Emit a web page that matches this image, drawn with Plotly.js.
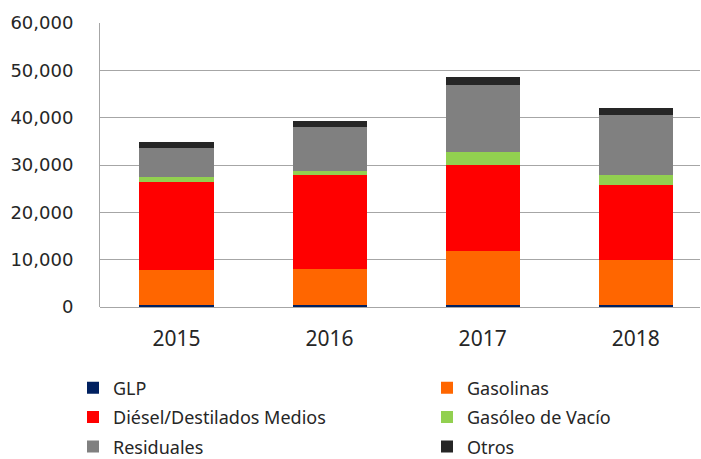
<!DOCTYPE html>
<html>
<head>
<meta charset="utf-8">
<script src="https://cdn.plot.ly/plotly-3.0.1.min.js"></script>
<style>
  body { margin: 0; background: #fff; }
  #chart { width: 701px; height: 459px; }
</style>
</head>
<body>
<div id="chart"></div>
<script>
var years = ["2015", "2016", "2017", "2018"];

var glp = [500, 500, 500, 500];
var gasolinas = [7360, 7570, 11370, 9400];
var diesel = [18610, 19750, 18120, 15940];
var gasoleo = [930, 900, 2800, 1980];
var residuales = [6240, 9340, 14060, 12640];
var otros = [1130, 1270, 1750, 1540];

var names = ["GLP", "Gasolinas", "Diésel/Destilados Medios", "Gasóleo de Vacío", "Residuales", "Otros"];
var colors = ["#002060", "#ff6600", "#ff0000", "#92d050", "#808080", "#262626"];
var series = [glp, gasolinas, diesel, gasoleo, residuales, otros];

// left column legend: GLP, Diésel, Residuales; right column: the others
var traces = series.map(function (vals, i) {
    return {
        x: years,
        y: vals,
        name: names[i],
        type: "bar",
        legend: (i % 2 === 0) ? "legend" : "legend2",
        legendgroup: "g" + i,
        marker: {color: colors[i], line: {width: 0}}
    };
});

var legendFont = {family: "Noto Sans", size: 18, color: "#262626"};

var layout = {
    width: 701,
    height: 459,
    margin: {l: 100, r: 1, t: 23, b: 152, autoexpand: false},
    barmode: "stack",
    bargap: 0.516,
    paper_bgcolor: "#fff",
    plot_bgcolor: "#fff",
    showlegend: true,
    xaxis: {
        type: "category",
        range: [-0.5, 3.42],
        showgrid: false,
        zeroline: false,
        showline: false,
        ticks: "",
        ticklabelstandoff: 17,
        tickfont: {family: "Noto Sans", size: 21, color: "#262626"}
    },
    yaxis: {
        range: [0, 60000],
        dtick: 10000,
        tickformat: ",d",
        showgrid: true,
        gridcolor: "#a6a6a6",
        gridwidth: 1,
        zeroline: true,
        zerolinecolor: "#a6a6a6",
        zerolinewidth: 1,
        showline: true,
        linecolor: "#a6a6a6",
        linewidth: 1,
        ticks: "",
        ticklabelstandoff: 22,
        tickfont: {family: "DejaVu Sans", size: 18, color: "#262626"}
    },
    legend: {
        orientation: "v",
        x: -0.045,
        xanchor: "left",
        y: -0.22,
        yanchor: "top",
        tracegroupgap: 3,
        traceorder: "grouped",
        font: legendFont
    },
    legend2: {
        orientation: "v",
        x: 0.545,
        xanchor: "left",
        y: -0.22,
        yanchor: "top",
        tracegroupgap: 3,
        traceorder: "grouped",
        font: legendFont
    }
};

Plotly.newPlot("chart", traces, layout, {displayModeBar: false, staticPlot: true});
</script>
</body>
</html>
